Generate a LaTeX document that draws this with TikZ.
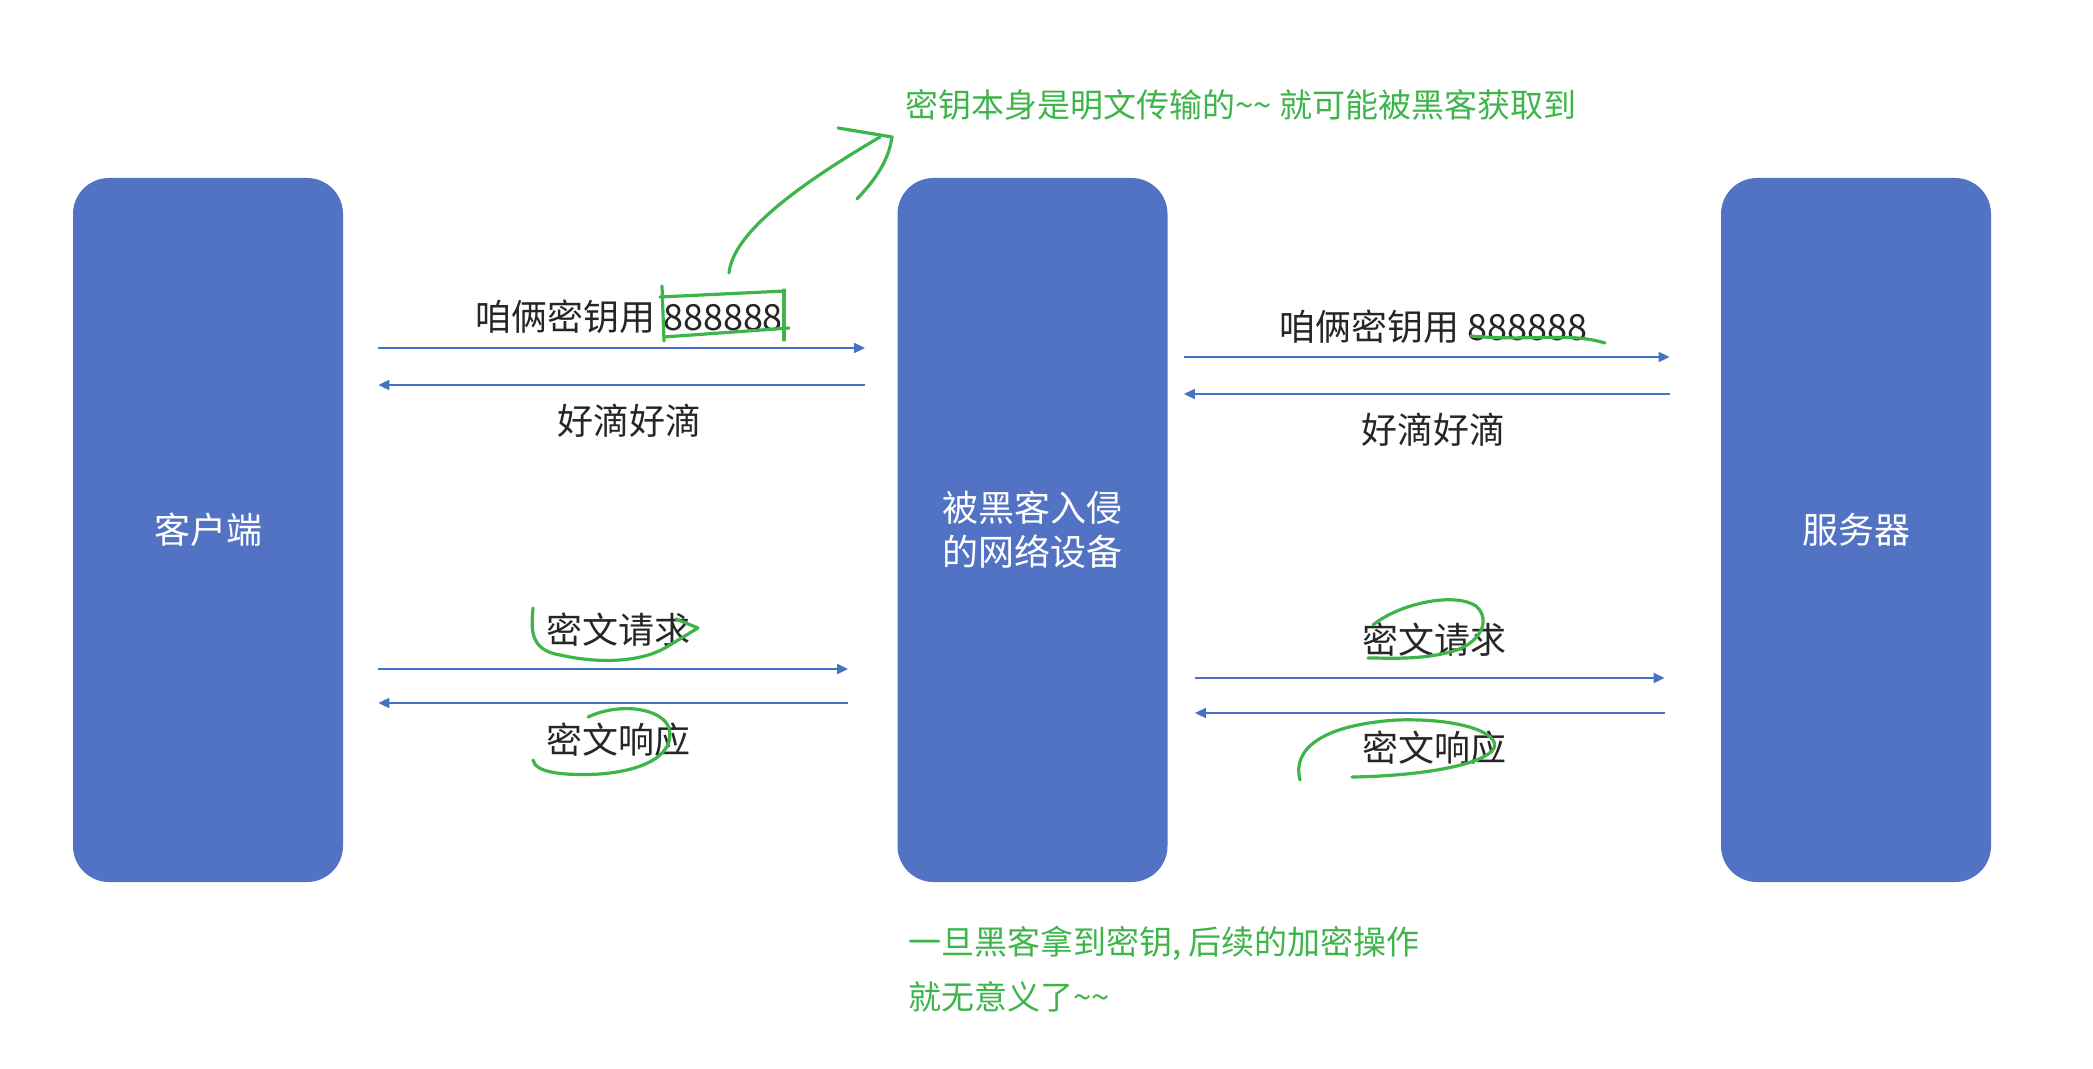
\documentclass[tikz,border=0pt]{standalone}
\usepackage{fontspec}
\newfontfamily\cjk{Noto Sans CJK SC}
\usetikzlibrary{arrows.meta,positioning}
\definecolor{boxblue}{HTML}{5272C4}
\definecolor{lineblue}{HTML}{4472C4}
\definecolor{pen}{HTML}{3DB54A}
\tikzset{
  >={Triangle[length=5.5pt,width=5pt]},
  host/.style ={fill=boxblue, rounded corners=18pt, minimum width=135pt, minimum height=352pt, inner sep=0pt, align=center, text=white, font=\cjk\fontsize{18pt}{22pt}\selectfont},
  msg/.style  ={->, draw=lineblue, line width=0.9pt},
  lbl/.style  ={text=black!85, font=\cjk\fontsize{18pt}{22pt}\selectfont, inner sep=0pt},
  note/.style ={text=pen, font=\cjk\fontsize{16.5pt}{27.5pt}\selectfont, inner sep=0pt, align=left},
  ink/.style  ={draw=pen, line width=1.6pt, line cap=round, line join=round},
}

\begin{document}
\begin{tikzpicture}[x=0.5pt, y=-0.5pt]
  \useasboundingbox (0,0) rectangle (2093,1069);

  % the three parties
  \node[host] (client) at (208,530) {客户端};
  \node[host] (hacker) at (1032.5,530) {被黑客入侵\\的网络设备};
  \node[host] (server) at (1856,530) {服务器};

  % key exchange
  \draw[msg, shorten <=17.5pt, shorten >=16pt] (client.east |- 0,348) -- (hacker.west |- 0,348);
  \draw[msg, shorten <=16pt, shorten >=17.5pt] (hacker.west |- 0,385) -- (client.east |- 0,385);
  \draw[msg, shorten <=8pt, shorten >=25.5pt] (hacker.east |- 0,357) -- (server.west |- 0,357);
  \draw[msg, shorten <=25.5pt, shorten >=8pt] (server.west |- 0,394) -- (hacker.east |- 0,394);
  \node[lbl] (key1) at (629,317) {咱俩密钥用 888888};
  \node[lbl] (ok1) at (629,421) {好滴好滴};
  \node[lbl] (key2) at (1433,327) {咱俩密钥用 888888};
  \node[lbl] (ok2) at (1433,430) {好滴好滴};

  % encrypted traffic
  \draw[msg, shorten <=17.5pt, shorten >=24.5pt] (client.east |- 0,669) -- (hacker.west |- 0,669);
  \draw[msg, shorten <=24.5pt, shorten >=17.5pt] (hacker.west |- 0,703) -- (client.east |- 0,703);
  \draw[msg, shorten <=13.5pt, shorten >=28pt] (hacker.east |- 0,678) -- (server.west |- 0,678);
  \draw[msg, shorten <=28pt, shorten >=13.5pt] (server.west |- 0,713) -- (hacker.east |- 0,713);
  \node[lbl] (req1) at (618,630) {密文请求};
  \node[lbl] (rsp1) at (618,740) {密文响应};
  \node[lbl] (req2) at (1434,640) {密文请求};
  \node[lbl] (rsp2) at (1434,748) {密文响应};

  % notes
  \node[note, anchor=west] (leak) at (905,105) {密钥本身是明文传输的\textasciitilde\textasciitilde{} 就可能被黑客获取到};
  \node[note, anchor=west] (useless) at (908,969) {一旦黑客拿到密钥, 后续的加密操作\\就无意义了\textasciitilde\textasciitilde};

  % hand marks
  \draw[ink] (662,286) -- (664,341);
  \draw[ink] (660,297) -- (785,291);
  \draw[ink] (784,290) -- (784,340);
  \draw[ink] (664,337) -- (789,328);
  \draw[ink] (729,273) .. controls (733,235) and (790,190) .. (880,137);
  \draw[ink] (838,128) -- (892,137) .. controls (888,165) and (870,185) .. (857,199);
  \draw[ink] (1471,336) .. controls (1510,340) and (1550,336) .. (1578,338) .. controls (1590,339) and (1598,341) .. (1605,343);
  \draw[ink] (533,608) .. controls (531,630) and (530,650) .. (560,655) .. controls (600,664) and (640,662) .. (665,648) -- (698,628) -- (676,619);
  \draw[ink] (588,717) .. controls (620,702) and (662,708) .. (669,728) .. controls (675,752) and (650,770) .. (600,774) .. controls (560,776) and (535,772) .. (533,760);
  \draw[ink] (1373,625) .. controls (1400,603) and (1455,592) .. (1476,606) .. controls (1492,620) and (1480,645) .. (1450,652) .. controls (1420,660) and (1390,658) .. (1368,658);
  \draw[ink] (1300,780) .. controls (1292,750) and (1320,725) .. (1397,720) .. controls (1460,718) and (1500,733) .. (1494,748) .. controls (1485,765) and (1420,776) .. (1352,777);
\end{tikzpicture}
\end{document}
